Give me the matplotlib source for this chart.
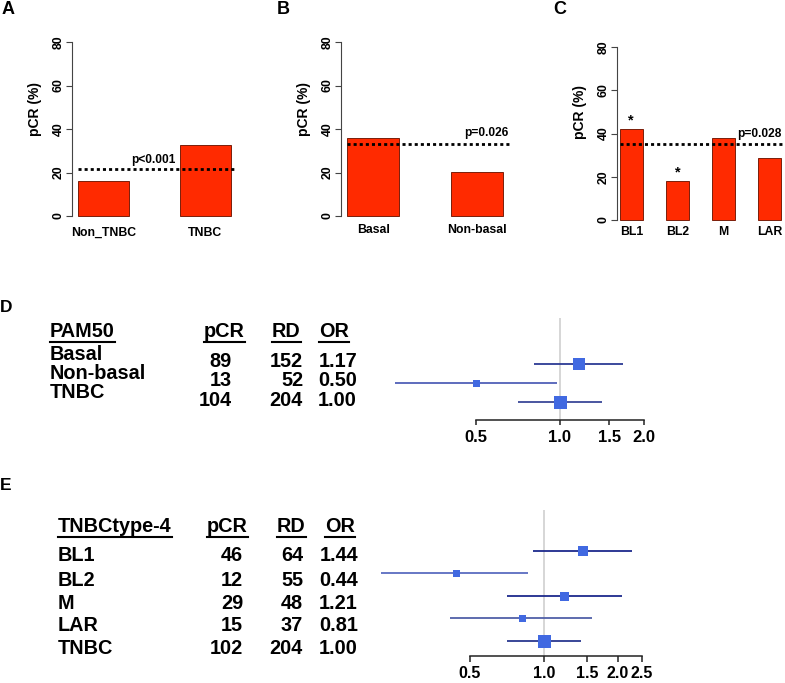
import matplotlib
matplotlib.use('Agg')
import matplotlib.pyplot as plt
from matplotlib.lines import Line2D
from matplotlib.ticker import NullLocator
import numpy as np

plt.rcParams['font.family'] = ['Liberation Sans', 'DejaVu Sans']
plt.rcParams['font.weight'] = 'bold'

# ---------------- data ----------------
a_cats = ['Non_TNBC', 'TNBC']
a_vals = [16.1, 32.6]
a_ref = 21.6
a_p = 'p<0.001'

b_cats = ['Basal', 'Non-basal']
b_vals = [36.0, 20.2]
b_ref = 33.1
b_p = 'p=0.026'

c_cats = ['BL1', 'BL2', 'M', 'LAR']
c_vals = [42.1, 18.0, 37.9, 28.7]
c_ref = 35.1
c_p = 'p=0.028'
c_sig = [True, True, False, False]

y_ticks = [0, 20, 40, 60, 80]

d_header = ['PAM50', 'pCR', 'RD', 'OR']
d_labels = ['Basal', 'Non-basal', 'TNBC']
d_pcr = [89, 13, 104]
d_rd = [152, 52, 204]
d_or = [1.17, 0.50, 1.00]
d_lo = [0.81, 0.257, 0.707]
d_hi = [1.68, 0.975, 1.414]
d_ticks = [0.5, 1.0, 1.5, 2.0]

e_header = ['TNBCtype-4', 'pCR', 'RD', 'OR']
e_labels = ['BL1', 'BL2', 'M', 'LAR', 'TNBC']
e_pcr = [46, 12, 29, 15, 102]
e_rd = [64, 55, 48, 37, 204]
e_or = [1.44, 0.44, 1.21, 0.81, 1.00]
e_lo = [0.90, 0.217, 0.707, 0.415, 0.707]
e_hi = [2.28, 0.86, 2.07, 1.57, 1.414]
e_ticks = [0.5, 1.0, 1.5, 2.0, 2.5]

# ---------------- styles ----------------
d_box_px = [12, 7, 13]
e_box_px = [10, 7, 9, 7, 13]
d_line_cols = ['#2c3a94', '#5060b8', '#3a4899']
e_line_cols = ['#1c2a8c', '#5a6cc0', '#1c2a8c', '#5060a8', '#2a3890']
BAR_FC = '#ff2a00'
BAR_EC = '#7a1e0a'
BOX_C = '#4169e1'

W, H = 785, 683
fig = plt.figure(figsize=(W / 100, H / 100), dpi=100)


def add_ax(l, t, r, b):
    return fig.add_axes([l / W, 1 - b / H, (r - l) / W, (b - t) / H])


def ftext(x, y, s, **kw):
    return fig.text(x / W, 1 - y / H, s, **kw)


def bar_panel(rect, cats, vals, ref, ptxt, pxy, lab_off_px, ylab_frac, sig=None):
    ax = add_ax(*rect)
    x = np.arange(len(cats)) * 2 + 1.5
    ax.bar(x, vals, width=1, color=BAR_FC, edgecolor=BAR_EC, linewidth=0.7, zorder=2)
    xmax = x[-1] + 0.5 + 0.12
    ax.set_xlim(0.88, xmax)
    ax.set_ylim(-4, 98)
    ax.hlines(ref, 1, xmax, colors='black', linestyles=(0, (1.1, 1.1)), lw=2, zorder=3)
    ax.text(pxy[0], pxy[1], ptxt, fontsize=8.6, fontweight='bold', ha='center',
            va='center', clip_on=False)
    if sig is not None:
        for xi, v, s in zip(x, vals, sig):
            if s:
                ax.text(xi, v + 4, '*', fontsize=10.5, fontweight='bold', ha='center', va='center')
    for s in ['top', 'right', 'bottom']:
        ax.spines[s].set_visible(False)
    ax.spines['left'].set_bounds(0, 80)
    ax.spines['left'].set_color('#444444')
    ax.spines['left'].set_linewidth(0.8)
    ax.set_yticks(y_ticks)
    ax.set_yticklabels([str(t) for t in y_ticks], rotation=90, fontsize=8.8, fontweight='bold')
    for lbl in ax.get_yticklabels():
        lbl.set_va('center')
    ax.tick_params(axis='y', length=4.3, width=0.8, color='#444444', pad=1)
    ax.set_xticks([])
    for xi, c in zip(x, cats):
        ax.annotate(c, xy=(xi, 0), xycoords='data', xytext=(0, -lab_off_px * 0.72),
                    textcoords='offset points', ha='center', va='center',
                    fontsize=8.8, fontweight='bold', annotation_clip=False)
    ax.set_ylabel('pCR (%)', fontsize=10, fontweight='bold')
    ax.yaxis.set_label_coords(-30 / ((rect[2] - rect[0])), ylab_frac)
    ax.patch.set_alpha(0)
    return ax


bar_panel((72, 2.85, 237, 224.7), a_cats, a_vals, a_ref, a_p, (2.47, 25.7), 17, 0.52)
bar_panel((341, 2.85, 509.5, 224.7), b_cats, b_vals, b_ref, b_p, (3.67, 38.2), 14, 0.52)
bar_panel((617, 8.1, 784, 228.65), c_cats, c_vals, c_ref, c_p, (7.05, 39.8), 12, 0.53, c_sig)

ftext(2, 10, 'A', fontsize=13, fontweight='bold', va='center', ha='left')
ftext(277, 10, 'B', fontsize=13, fontweight='bold', va='center', ha='left')
ftext(553, 10, 'C', fontsize=13, fontweight='bold', va='center', ha='left')
ftext(0, 307, 'D', fontsize=12.5, fontweight='bold', va='center', ha='left')
ftext(0, 485, 'E', fontsize=12.5, fontweight='bold', va='center', ha='left')


def forest(rect, ors, lo, hi, box_px, cols, xlim, ylim, ticks, ticklen_px, pad_pt, tfs):
    ax = add_ax(*rect)
    n = len(ors)
    y = np.arange(n, 0, -1)
    ax.set_xscale('log')
    ax.set_xlim(*xlim)
    ax.set_ylim(*ylim)
    ax.axvline(1.0, color='#d0d0d0', lw=1.2, zorder=1)
    ax.hlines(y, lo, hi, colors=cols, lw=1.3, zorder=2)
    for yi, o, s in zip(y, ors, box_px):
        ax.plot([o], [yi], marker='s', ms=s * 0.72, mfc=BOX_C, mec=BOX_C, mew=0, zorder=3)
    for s in ['top', 'right', 'left']:
        ax.spines[s].set_visible(False)
    ax.spines['bottom'].set_bounds(ticks[0], ticks[-1])
    ax.spines['bottom'].set_linewidth(1.1)
    ax.spines['bottom'].set_color('#222222')
    ax.xaxis.set_minor_locator(NullLocator())
    ax.set_xticks(ticks)
    ax.set_xticklabels(['%.1f' % t for t in ticks], fontsize=tfs, fontweight='bold')
    ax.tick_params(axis='x', length=ticklen_px * 0.72, width=1.1, color='#222222', pad=pad_pt)
    ax.set_yticks([])
    ax.patch.set_alpha(0)
    return ax


forest((376.5, 318, 660.9, 420), d_or, d_lo, d_hi, d_box_px, d_line_cols,
       (0.22, 2.3), (0.053, 5.42), d_ticks, 5, 3.6, 12)
forest((372.2, 510, 646, 656), e_or, e_lo, e_hi, e_box_px, e_line_cols,
       (0.2, 2.6), (0.333, 6.82), e_ticks, 6, 2.6, 11.5)

FS = 14.3
CAPH = 7.1


def table(header, hx, hy, labels, lx, label_y, pcr, rd, orv, num_y, num_x):
    heads = []
    for h, x in zip(header, hx):
        heads.append(ftext(x, hy + CAPH, h, fontsize=FS, fontweight='bold', ha='left', va='baseline'))
    for lab, yy in zip(labels, label_y):
        ftext(lx, yy + CAPH, lab, fontsize=FS, fontweight='bold', ha='left', va='baseline')
    for p, r, o, yy in zip(pcr, rd, orv, num_y):
        ftext(num_x[0], yy + CAPH, str(p), fontsize=FS, fontweight='bold', ha='right', va='baseline')
        ftext(num_x[1], yy + CAPH, str(r), fontsize=FS, fontweight='bold', ha='right', va='baseline')
        ftext(num_x[2], yy + CAPH, '%.2f' % o, fontsize=FS, fontweight='bold', ha='right', va='baseline')
    return heads


d_heads = table(d_header, [50, 204, 272, 319], 330, d_labels, 50, [353, 372, 391],
                d_pcr, d_rd, d_or, [360, 379, 399], [232, 303, 357])
e_heads = table(e_header, [58, 207, 277, 325], 525, e_labels, 58, [554, 579, 602, 624, 647],
                e_pcr, e_rd, e_or, [554, 579, 602, 624, 647], [243, 303, 358])

fig.canvas.draw()
renderer = fig.canvas.get_renderer()
for heads, uy in [(d_heads, 342), (e_heads, 537)]:
    for t in heads:
        bb = t.get_window_extent(renderer)
        yf = 1 - uy / H
        fig.add_artist(Line2D([bb.x0 / W, bb.x1 / W], [yf, yf], transform=fig.transFigure,
                              color='black', lw=1.5))

fig.savefig('out.png', dpi=100)
